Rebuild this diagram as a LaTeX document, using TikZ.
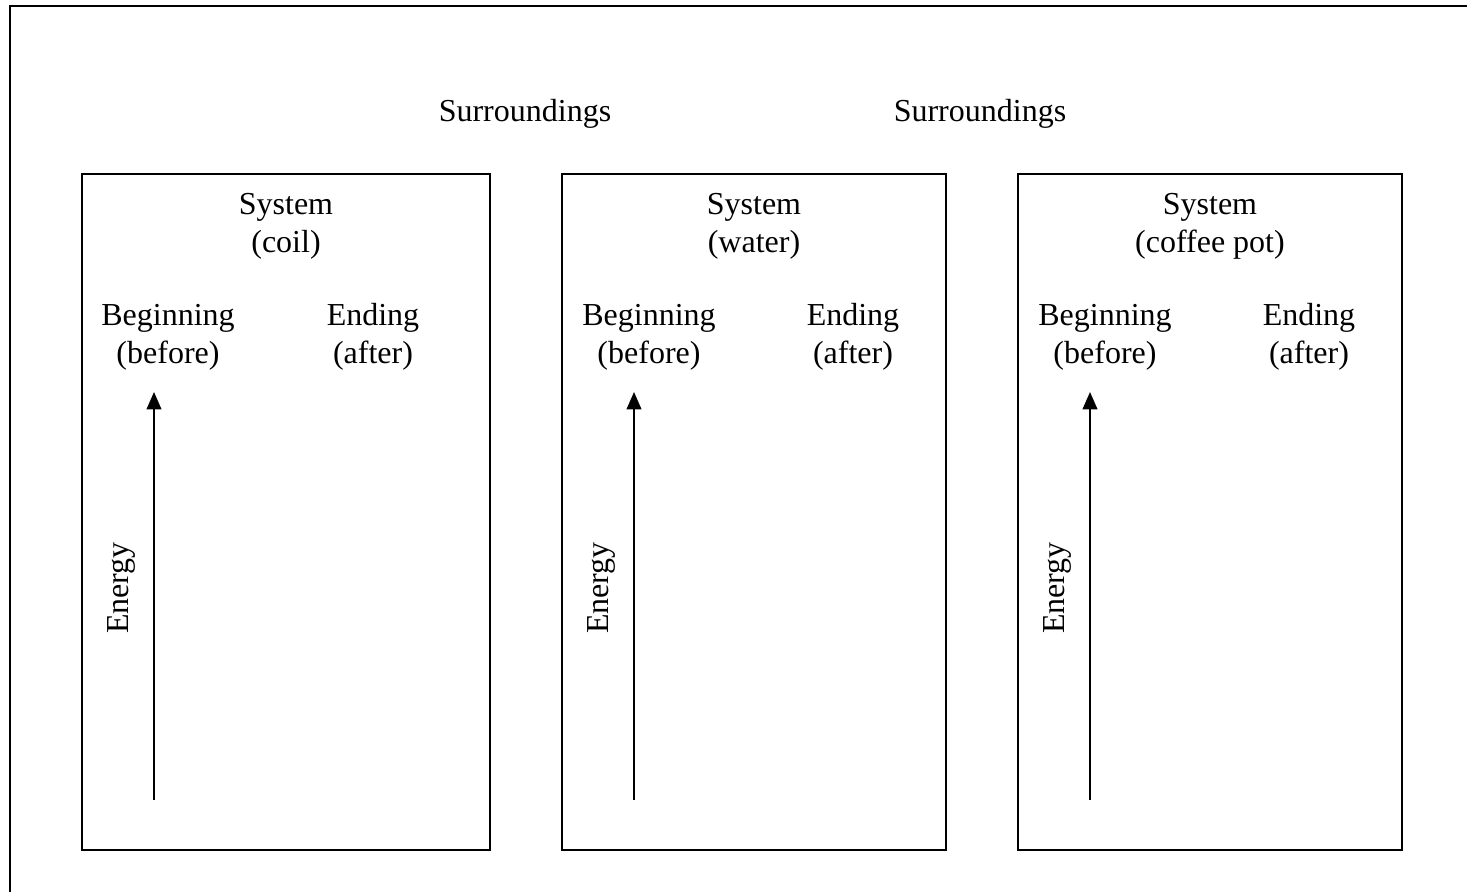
\documentclass[tikz,border=0pt]{standalone}
\usepackage{fontspec}
\setmainfont{Liberation Serif}
\usetikzlibrary{positioning,arrows.meta}
\tikzstyle{sys}=[%
      rectangle, draw=black, line width=0.75pt, fill=none
]
\tikzstyle{lbl}=[%
      inner sep=0pt, align=center, font=\fontsize{12}{14.3}\selectfont
]
\tikzstyle{frame}=[%
      draw=black, line width=1.1pt
]
\begin{document}
\begin{tikzpicture}[x=0.375pt, y=-0.375pt,
    energy/.style={-{Triangle[length=6.5pt,width=5.5pt]}, line width=0.75pt}
  ]
    \useasboundingbox (0,0) rectangle (1467,892);
    \draw[frame] (10,892) -- (10,6) -- (1467,6);

    % surroundings
    \node[lbl] (sur1) at (525,114) {Surroundings};
    \node[lbl] (sur2) at (980,114) {Surroundings};

    % coil
    \draw[sys] (82,174) rectangle (490,850);
    \node[lbl] (sys1) at (286,226) {System\\(coil)};
    \node[lbl] (beg1) at (168,337) {Beginning\\(before)};
    \node[lbl] (end1) at (373,337) {Ending\\(after)};
    \coordinate (e1a) at (154,800);
    \coordinate (e1b) at (154,392);
    \draw[energy] (e1a) -- (e1b);
    \node[lbl, rotate=90] (en1) at (121,588) {Energy};

    % water
    \draw[sys] (562,174) rectangle (946,850);
    \node[lbl] (sys2) at (754,226) {System\\(water)};
    \node[lbl] (beg2) at (649,337) {Beginning\\(before)};
    \node[lbl] (end2) at (853,337) {Ending\\(after)};
    \coordinate (e2a) at (634,800);
    \coordinate (e2b) at (634,392);
    \draw[energy] (e2a) -- (e2b);
    \node[lbl, rotate=90] (en2) at (601,588) {Energy};

    % coffee pot
    \draw[sys] (1018,174) rectangle (1402,850);
    \node[lbl] (sys3) at (1210,226) {System\\(coffee pot)};
    \node[lbl] (beg3) at (1105,337) {Beginning\\(before)};
    \node[lbl] (end3) at (1309,337) {Ending\\(after)};
    \coordinate (e3a) at (1090,800);
    \coordinate (e3b) at (1090,392);
    \draw[energy] (e3a) -- (e3b);
    \node[lbl, rotate=90] (en3) at (1057,588) {Energy};
  \end{tikzpicture}
\end{document}
